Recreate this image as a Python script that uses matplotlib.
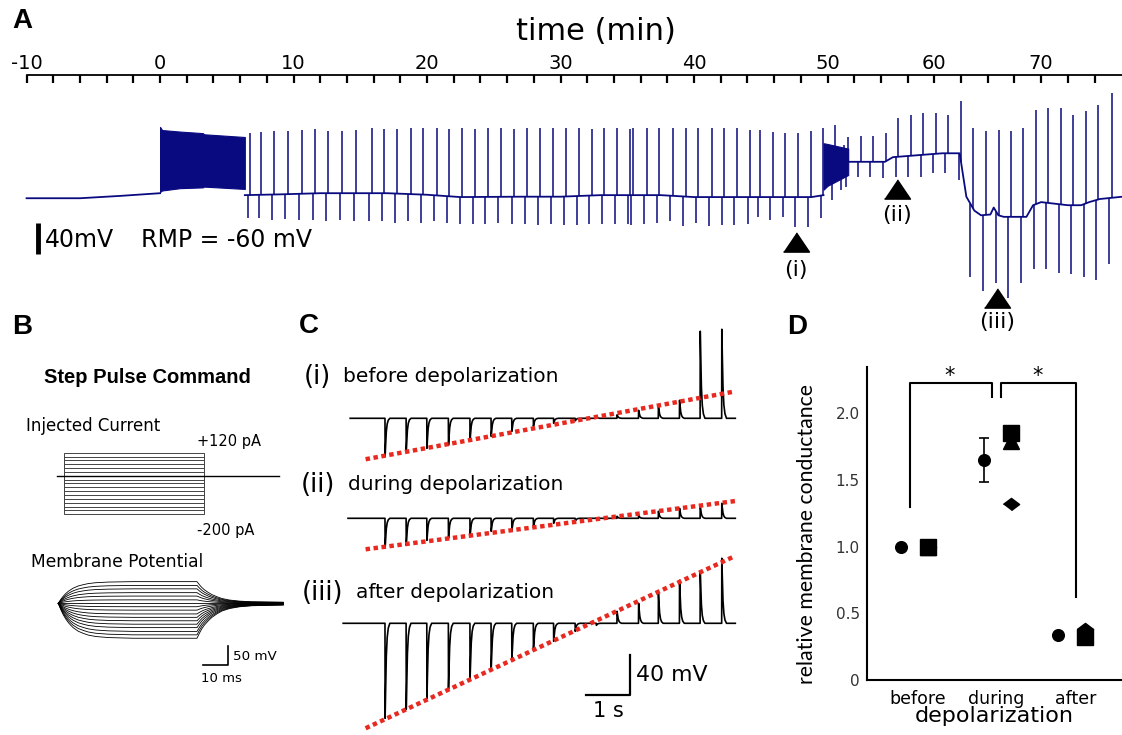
import numpy as np
import matplotlib.pyplot as plt
from matplotlib.ticker import FixedLocator, NullFormatter

plt.rcParams['font.family'] = ['DejaVu Sans']

W, H = 1122, 735
navy = '#0a0a80'
red = '#e8291f'

# ---------------- A: long whole-cell recording (min, mV) ----------------
time_ticks = list(range(-10, 72, 2))
time_label_at = [-10, 0, 10, 20, 30, 40, 50, 58, 66]
time_labels = ['-10', '0', '10', '20', '30', '40', '50', '60', '70']

rest_t = [-10, -6, -3, 0]
rest_v = [-64, -64, -61, -57.5]
mid_t = [6.35, 9, 12, 17, 20, 22.5, 27, 30, 33, 37.5, 40, 48.8, 49.7]
mid_v = [-60, -59, -57.5, -57.5, -59.5, -62.5, -62, -62, -60, -60, -62.5, -62.5, -60]
late_t = [51.55, 54.3, 54.9, 58.6, 59.9, 60.4, 61.0, 61.5, 62.2, 62.45, 62.8,
          63.2, 64.9, 65.4, 66.0, 68.0, 69.0, 69.6, 70.4, 72.1]
late_v = [-17, -17, -11, -6, -6, -62, -80, -86, -85, -76, -86,
          -88, -88, -73, -69, -73, -73, -69, -65, -62]

burst1_t = [0, 0.15, 1.5, 3.2, 3.3, 6.35]
burst1_top = [28, 24, 22, 20, 18.5, 15]
burst1_bot = [-56, -54, -51, -50, -49, -52]
burst2_t = [49.7, 50.0, 51.55]
burst2_top = [7, 6, 0]
burst2_bot = [-53, -48, -34]

# test pulses: time of the depolarizing peak, peak and trough (mV)
ev_t = [6.74, 7.57, 8.56, 9.57, 10.61, 11.61, 12.61, 13.66, 14.68, 15.86,
        16.80, 17.78, 18.78, 19.72, 20.73, 21.67, 22.64, 23.60, 24.55, 25.52,
        26.52, 27.51, 28.46, 29.46, 30.41, 31.39, 32.34, 33.28, 34.25, 35.21,
        35.45, 36.46, 37.40, 38.40, 39.38, 40.32, 41.33, 42.27, 43.20, 44.19,
        44.94, 45.90, 46.82, 47.77, 48.74, 49.69,
        50.55, 51.2, 51.54, 52.49, 53.39, 54.36, 55.30, 56.23, 57.18, 58.10,
        59.00, 60.0, 60.88, 61.85, 62.82, 63.72, 64.67, 65.62, 66.54, 67.49,
        68.41, 69.36, 70.28, 71.29]
ev_up = [20, 22, 23, 23, 24, 25, 23, 23, 24, 26, 25, 25, 26, 26, 26, 25, 26, 25,
         26, 26, 25, 26, 26, 26, 26,
         27, 25, 27, 27, 25, 26, 27, 27, 26, 26, 27, 26, 27, 27, 24, 24, 22, 20,
         20, 23, 26,
         30, 5, 15, 16, 16, 20, 39, 43, 46, 46, 43, 62, 27, 23, 24, 23, 26, 50,
         52, 52, 43, 48, 56, 72]
ev_down = [-90, -90, -92, -91, -92, -92, -93, -92, -93, -94, -94, -96, -94, -96,
           -94, -96, -97, -97, -97, -96, -97, -97, -99, -97, -99,
           -99, -97, -97, -97, -97, -99, -97, -96, -94, -100, -96, -100, -99,
           -99, -97, -88, -92, -88, -101, -101, -90,
           -66, -54, -50, -36, -36, -38, -36, -36, -37, -31, -31, -40, -165,
           -184, -174, -193, -174, -155, -155, -160, -162, -165, -169, -149]
pulse_lag = 0.18

mark_t = [47.64, 55.2, 62.7]
mark_v = [-120, -52, -193]
mark_names = ['(i)', '(ii)', '(iii)']
mark_name_v = [-157, -86, -224]

# ---------------- B: step pulse protocol ----------------
step_currents = [-200, -180, -160, -140, -120, -100, -80, -60, -40, -20,
                 0, 20, 40, 60, 80, 100, 120]
cmd_on, cmd_off, cmd_end = 3, 59, 89
vm_steady = [-92, -83, -74, -64, -55, -46, -37, -28, -18, -9,
             0, 9, 19, 28, 38, 47, 57]
charge_t = [0, 1, 2, 3, 4, 5, 6, 8, 10, 12, 15, 20, 25, 30, 55.5]
charge_frac = [0, .18, .33, .45, .55, .63, .70, .80, .86, .91, .95, .98, .99, 1, 1]
decay_t = [0, 1, 2, 3, 4.5, 6, 8, 10, 13, 17, 22, 28, 34.5]
decay_frac = [1, .85, .72, .62, .5, .4, .3, .22, .15, .10, .07, .06, .05]

# ---------------- C: ramp of test pulses (s, mV) ----------------
pulse_times = [0.84, 1.32, 1.79, 2.28, 2.77, 3.25, 3.72, 4.21, 4.67, 5.16,
               5.64, 6.11, 6.60, 7.05, 7.53, 8.00, 8.49]
sweep_i = [-38, -33, -30, -27, -22, -18, -13, -8, -5, -2.5, 1, 3.5, 8, 12, 18, 87, 89]
sweep_ii = [-30, -27, -22, -20, -18, -13, -12, -9, -5, -3, 0.5, 2, 3, 7, 10, 12, 15]
sweep_iii = [-95, -86, -75, -66, -56, -46, -37, -27, -18, -8, -2, 12, 20, 30, 43, 52, 65]
sweep_names = ['(i)', '(ii)', '(iii)']
sweep_texts = ['before depolarization', 'during depolarization', 'after depolarization']
sweep_fit_n = [15, 17, 17]
sweep_start = [0.05, 0.0, -0.11]
sweep_end = 8.8
pulse_shape_t = [0, 0.003, 0.015, 0.03, 0.05, 0.075, 0.11]
pulse_shape_f = [0, 1, 0.7, 0.35, 0.15, 0.05, 0]

# ---------------- D: relative membrane conductance ----------------
groups = ['before', 'during', 'after']
circle_x = [-0.21, 0.85, 1.78]
circle_y = [1.0, 1.65, 0.34]
circle_err = [0, 0.167, 0]
triangle_x = [0.13, 1.19, 2.12]
triangle_y = [1.0, 1.79, 0.33]
square_x = [0.13, 1.19, 2.12]
square_y = [1.0, 1.855, 0.326]
diamond_x = [0.13, 1.19, 2.12]
diamond_y = [1.0, 1.32, 0.384]


def rect(x0, y0, x1, y1):
    return [x0 / W, 1 - y1 / H, (x1 - x0) / W, (y1 - y0) / H]


fig = plt.figure(figsize=(W / 100, H / 100), dpi=100)


def label(x, y, s, **kw):
    kw.setdefault('va', 'center')
    fig.text(x / W, 1 - y / H, s, **kw)


def bare(ax):
    ax.set_xticks([])
    ax.set_yticks([])
    for s in ax.spines.values():
        s.set_visible(False)


# ---- panel A
axA = fig.add_axes(rect(0, 75, W, 330))
axA.set_xlim(-11.99, 72.06)
axA.set_ylim(-234, 95)
for s in ['left', 'right', 'bottom']:
    axA.spines[s].set_visible(False)
axA.spines['top'].set_bounds(-10, 72.06)
axA.spines['top'].set_linewidth(1.3)
axA.xaxis.tick_top()
axA.xaxis.set_major_locator(FixedLocator(time_label_at))
axA.set_xticklabels(time_labels, fontsize=14)
axA.xaxis.set_minor_locator(FixedLocator([t for t in time_ticks if t not in time_label_at]))
axA.xaxis.set_minor_formatter(NullFormatter())
axA.tick_params(axis='x', which='both', direction='in', length=6, width=1.6, pad=1.5)
axA.set_yticks([])

base_t = rest_t + mid_t + late_t
base_v = rest_v + mid_v + late_v
axA.fill_between(burst1_t, burst1_bot, burst1_top, color=navy, lw=0.8)
axA.fill_between(burst2_t, burst2_bot, burst2_top, color=navy, lw=0.8)
for tt, vv in [(rest_t, rest_v), (mid_t, mid_v), (late_t, late_v)]:
    axA.plot(tt, vv, color=navy, lw=1.3)
et = np.array(ev_t)
axA.vlines(et, np.interp(et, base_t, base_v), ev_up, color=navy, lw=1.1)
axA.vlines(et - pulse_lag, ev_down, np.interp(et - pulse_lag, base_t, base_v),
           color=navy, lw=1.1)

tri = [(-1.35, -1), (1.35, -1), (0, 1)]
axA.plot(mark_t, mark_v, ls='none', marker=tri, ms=18.7, color='black')
for t, v, s in zip(mark_t, mark_name_v, mark_names):
    axA.text(t, v, s, ha='center', va='center', fontsize=16)

axA.plot([-9.14, -9.14], [-96, -136], color='black', lw=3.5, solid_capstyle='butt')
label(45, 240, '40mV', fontsize=17)
label(141, 240, 'RMP = -60 mV', fontsize=17)
label(596, 31, 'time (min)', fontsize=22, ha='center')

# ---- panel B
label(147, 378, 'Step Pulse Command', fontsize=14.5, ha='center',
      family='Liberation Sans', weight='bold')
label(26, 426, 'Injected Current', fontsize=12)
label(197, 442, '+120 pA', fontsize=10.5)
label(197, 530, '-200 pA', fontsize=10.5)
label(31, 562, 'Membrane Potential', fontsize=12.3)

axI = fig.add_axes(rect(50, 445, 290, 522))
bare(axI)
axI.set_xlim(-2.68, 93.3)
axI.set_ylim(-240, 160)
for cur in step_currents:
    axI.plot([cmd_on, cmd_on, cmd_off, cmd_off], [0, cur, cur, 0], color='#444444', lw=0.7)
axI.plot([0, cmd_end], [0, 0], color='black', lw=1.0)

axV = fig.add_axes(rect(50, 570, 290, 672))
bare(axV)
axV.set_xlim(-3.32, 92.7)
axV.set_ylim(-180.8, 87.6)
t_off = charge_t[-1]
vt = np.array(charge_t + [t_off + d for d in decay_t[1:]])
vf = np.array(charge_frac + decay_frac[1:])
for vss in vm_steady:
    axV.plot(vt, vss * vf, color='black', lw=0.6)
axV.plot([57.8, 67.8, 67.8], [-162.4, -162.4, -112.4], color='black', lw=1.2)
label(233, 656, '50 mV', fontsize=9.7)
label(221, 678, '10 ms', fontsize=9.5, ha='center')

# ---- panel C
axC = fig.add_axes(rect(340, 320, 745, 735))
bare(axC)
axC.set_xlim(-0.182, 9.02)
axC.set_ylim(-316.7, 98.3)
offsets = [0, -100, -205]
name_y = [377, 485, 593]
name_x = [304, 301, 302]
text_x = [343, 348, 356]
for k, peaks in enumerate([sweep_i, sweep_ii, sweep_iii]):
    xs = [sweep_start[k]]
    ys = [0]
    for t0, pk in zip(pulse_times, peaks):
        for dt, f in zip(pulse_shape_t, pulse_shape_f):
            xs.append(t0 + dt)
            ys.append(pk * f)
    xs.append(sweep_end)
    ys.append(0)
    axC.plot(xs, np.array(ys) + offsets[k], color='black', lw=1.2)
    n = sweep_fit_n[k]
    a, b = np.polyfit(pulse_times[:n], peaks[:n], 1)
    fx = np.array([0.4, sweep_end])
    axC.plot(fx, a * fx + b + offsets[k], color=red, lw=3.2, ls=(0, (1, 0.8)))
    label(name_x[k], name_y[k], sweep_names[k], fontsize=18.5)
    label(text_x[k], name_y[k], sweep_texts[k], fontsize=14.5)
axC.plot([5.41, 6.41, 6.41], [-276.7, -276.7, -236.7], color='black', lw=1.6)
label(636, 675, '40 mV', fontsize=15.8)
label(608, 711, '1 s', fontsize=15, ha='center')

# ---- panel D
axD = fig.add_axes(rect(866.7, 366.7, 1122, 680))
axD.set_xlim(-0.64, 2.59)
axD.set_ylim(0, 2.35)
for s in ['top', 'right']:
    axD.spines[s].set_visible(False)
for s in ['left', 'bottom']:
    axD.spines[s].set_linewidth(1.5)
axD.set_yticks([0, 0.5, 1.0, 1.5, 2.0], ['0', '0.5', '1.0', '1.5', '2.0'])
axD.set_xticks([0, 1, 2], groups)
axD.tick_params(axis='y', length=0, pad=5, labelsize=11, labelcolor='#333333')
axD.tick_params(axis='x', length=0, pad=7, labelsize=12.5)
axD.set_xlabel('depolarization', fontsize=16, labelpad=-1)
label(806.7, 534, 'relative membrane conductance', fontsize=15.3, rotation=90,
      ha='center', family='Lato')

axD.errorbar(circle_x, circle_y, yerr=circle_err, fmt='o', ms=8.4, color='black',
             capsize=3.5, elinewidth=1.2, capthick=1.2)
axD.plot(triangle_x, triangle_y, '^', ms=11.5, color='black', ls='none')
diam = [(-1, 0), (0, 0.75), (1, 0), (0, -0.75)]
axD.plot(diamond_x, diamond_y, marker=diam, ms=11.7, color='black', ls='none')
axD.plot(square_x, square_y, 's', ms=12.2, color='black', ls='none')

axD.plot([-0.09, -0.09, 0.944, 0.944], [1.295, 2.23, 2.23, 2.12], color='black', lw=1.5)
axD.plot([1.054, 1.054, 2.004, 2.004], [2.12, 2.23, 2.23, 0.62], color='black', lw=1.5)
axD.text(0.41, 2.28, '*', ha='center', va='center', fontsize=15)
axD.text(1.525, 2.28, '*', ha='center', va='center', fontsize=15)

# ---- panel letters
for x, y, s in [(22, 21, 'A'), (22, 327, 'B'), (309, 326, 'C'), (797, 327, 'D')]:
    label(x, y, s, fontsize=20, weight='bold', family='Liberation Sans', ha='center')

fig.savefig('out.png', dpi=100)
